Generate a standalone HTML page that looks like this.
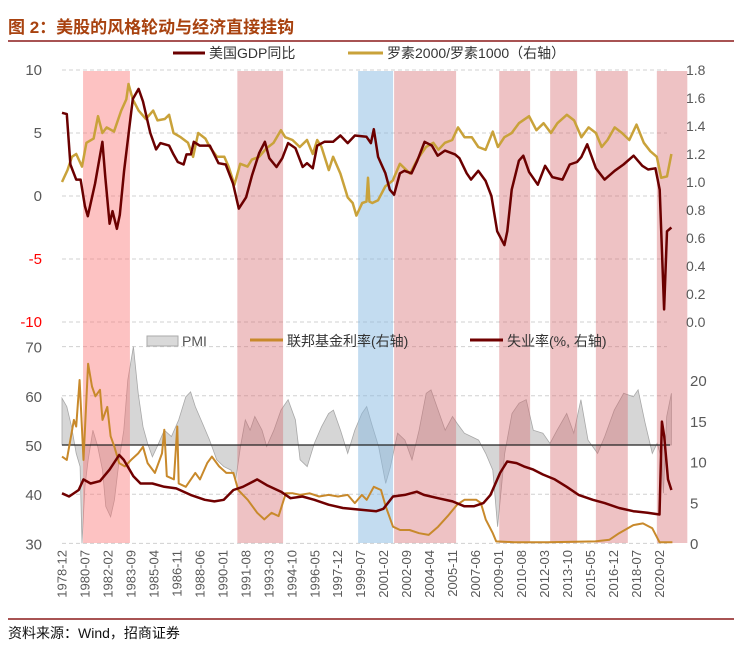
<!DOCTYPE html>
<html><head><meta charset="utf-8"><style>
body{margin:0;background:#fff;}
svg{display:block;font-family:"Liberation Sans","Noto Sans CJK SC",sans-serif;}
</style></head><body>
<svg id="c" width="743" height="654" viewBox="0 0 743 654">
<text x="8" y="33" font-size="17" font-weight="bold" fill="#a8420f">图 2：美股的风格轮动与经济直接挂钩</text>
<line x1="8" y1="41" x2="734" y2="41" stroke="#8b1a1a" stroke-width="1.5"/>
<g id="bands"></g>
<g id="grid"></g>
<g id="series"></g>
<g id="axes"></g>
<g>
<line x1="173" y1="53" x2="205" y2="53" stroke="#6b0000" stroke-width="3"/>
<text x="209" y="58" font-size="14" fill="#333">美国GDP同比</text>
<line x1="348" y1="53" x2="383" y2="53" stroke="#c9a23a" stroke-width="3"/>
<text x="387" y="58" font-size="14" fill="#333">罗素2000/罗素1000（右轴）</text>
</g>
<g>
<rect x="147" y="336" width="31" height="10" fill="#d9d9d9" stroke="#aaa" stroke-width="1"/>
<text x="182" y="346" font-size="14" fill="#555">PMI</text>
<line x1="250" y1="340" x2="283" y2="340" stroke="#c8892b" stroke-width="3"/>
<text x="287" y="346" font-size="14" fill="#333">联邦基金利率(右轴)</text>
<line x1="470" y1="340" x2="503" y2="340" stroke="#700000" stroke-width="3"/>
<text x="507" y="346" font-size="14" fill="#333">失业率(%, 右轴)</text>
</g>
<line x1="8" y1="619" x2="734" y2="619" stroke="#8b1a1a" stroke-width="1.5"/>
<text x="8" y="638" font-size="14" fill="#111">资料来源：Wind，招商证券</text>
</svg>
<script>
const gdpDates=[1978.92,1979.25,1979.5,1979.9,1980.2,1980.5,1980.7,1981.2,1981.7,1981.9,1982.2,1982.4,1982.7,1982.9,1983.2,1983.8,1984.2,1984.5,1985.0,1985.4,1985.7,1986.3,1986.6,1986.9,1987.3,1987.5,1987.8,1988.0,1988.4,1989.1,1989.7,1990.2,1990.7,1991.1,1991.6,1992.0,1992.5,1992.9,1993.2,1993.7,1994.1,1994.5,1995.0,1995.5,1995.8,1996.2,1996.5,1997.0,1997.6,1998.1,1998.6,1999.1,1999.9,2000.2,2000.4,2000.7,2001.2,2001.5,2001.8,2002.2,2002.5,2003.0,2003.4,2003.9,2004.4,2004.8,2005.3,2006.0,2006.3,2006.8,2007.1,2007.6,2008.1,2008.5,2008.9,2009.4,2009.6,2009.9,2010.4,2010.7,2011.1,2011.7,2012.2,2012.7,2013.4,2013.9,2014.4,2014.7,2015.1,2015.7,2016.3,2017.0,2017.6,2018.3,2018.9,2019.3,2019.8,2020.1,2020.4,2020.6,2020.9];
const gdpValues=[6.6,6.5,2.5,1.3,1.3,-0.8,-1.6,1.0,4.3,1.5,-2.2,-1.2,-2.6,-1.5,2.0,7.7,8.5,7.5,5.0,3.7,4.2,4.0,3.3,2.7,2.5,3.3,3.3,4.3,4.0,4.0,2.6,2.5,1.0,-1.0,-0.1,1.6,3.4,4.3,3.0,2.3,3.0,4.2,3.8,2.3,2.6,2.2,4.0,4.3,4.3,4.8,4.2,4.8,4.7,4.2,5.3,3.1,1.8,0.5,0.1,1.8,2.0,1.8,2.8,4.3,4.0,3.2,3.6,3.3,3.0,1.8,1.3,2.0,1.2,0.0,-2.8,-3.9,-2.8,0.5,2.8,3.2,1.9,0.9,2.4,1.5,1.3,2.5,2.7,3.1,4.1,2.2,1.3,2.0,2.5,3.2,2.4,2.1,2.2,0.5,-9.0,-2.8,-2.5];
const rusDates=[1978.92,1979.3,1979.6,1979.9,1980.3,1980.6,1981.1,1981.4,1981.7,1982.0,1982.5,1983.0,1983.35,1983.5,1983.8,1984.2,1984.7,1985.2,1985.5,1986.0,1986.3,1986.6,1987.1,1987.6,1987.95,1988.3,1988.8,1989.1,1989.6,1990.1,1990.4,1990.8,1991.2,1991.7,1992.0,1992.5,1993.0,1993.5,1994.0,1994.3,1994.8,1995.3,1995.8,1996.2,1996.5,1996.8,1997.3,1997.6,1998.1,1998.6,1998.95,1999.2,1999.6,1999.9,2000.0,2000.1,2000.3,2000.7,2001.2,2001.7,2002.2,2002.9,2003.4,2004.0,2004.5,2004.85,2005.3,2005.8,2006.2,2006.65,2007.15,2007.6,2008.1,2008.6,2008.95,2009.4,2009.9,2010.4,2011.1,2011.6,2012.1,2012.6,2013.05,2013.7,2014.2,2014.7,2015.2,2015.7,2016.1,2016.5,2017.0,2017.5,2018.0,2018.5,2019.0,2019.45,2019.9,2020.2,2020.6,2020.9];
const rusValues=[1.00,1.085,1.18,1.20,1.11,1.28,1.31,1.47,1.35,1.39,1.36,1.51,1.59,1.70,1.59,1.51,1.45,1.51,1.44,1.45,1.48,1.35,1.32,1.28,1.18,1.35,1.31,1.25,1.18,1.18,1.11,0.98,1.13,1.11,1.16,1.18,1.24,1.28,1.37,1.32,1.30,1.25,1.30,1.20,1.30,1.25,1.085,1.18,1.06,0.89,0.85,0.76,0.85,0.86,1.03,0.86,0.85,0.87,0.97,1.01,1.13,1.06,1.16,1.25,1.28,1.23,1.28,1.30,1.39,1.32,1.32,1.25,1.23,1.36,1.25,1.32,1.35,1.42,1.47,1.37,1.42,1.35,1.42,1.48,1.44,1.32,1.39,1.35,1.25,1.30,1.39,1.35,1.30,1.41,1.28,1.22,1.18,1.03,1.04,1.20];
const pmiDates=[1978.92,1979.25,1979.58,1979.9,1980.17,1980.3,1980.5,1980.72,1981.05,1981.38,1981.71,1981.94,1982.27,1982.53,1982.86,1983.18,1983.45,1983.84,1984.17,1984.5,1984.82,1985.15,1985.48,1985.97,1986.46,1986.96,1987.45,1987.78,1988.1,1988.6,1989.09,1989.58,1990.07,1990.56,1990.89,1991.22,1991.55,1991.88,1992.2,1992.7,1993.02,1993.52,1994.01,1994.5,1995.0,1995.32,1995.81,1996.3,1996.8,1997.29,1997.62,1998.11,1998.6,1999.09,1999.58,1999.91,2000.24,2000.73,2001.22,2001.55,2002.04,2002.54,2003.03,2003.52,2004.01,2004.34,2004.83,2005.32,2005.82,2006.14,2006.64,2007.13,2007.62,2008.11,2008.6,2008.93,2009.42,2009.92,2010.41,2010.9,2011.39,2012.05,2012.54,2013.03,2013.69,2014.18,2014.67,2015.16,2015.82,2016.31,2016.97,2017.62,2018.28,2018.61,2019.1,2019.59,2019.92,2020.25,2020.35,2020.58,2020.9];
const pmiValues=[59.5,57.8,53.7,48.3,45.6,30,41.5,46.9,53,49.7,44.9,37.5,35.4,38.8,47,53,63.2,70,60.5,53.7,50.3,47.6,49.7,53,51.7,55.1,59.8,60.8,57.8,54.4,51,47,45.6,44.9,42.9,49.7,55.1,53,55.8,53,49.7,53,57.1,59.2,55.1,47,45.6,50.3,53.7,56.4,57.1,53,48.3,53,56.4,57.8,54.4,49.7,42.2,45.6,52.4,51,47,53,60.5,61.2,57.1,53,55.8,54.4,52.4,51.7,51,48.3,44.9,33.4,48.3,56.4,58.5,59.2,53,52.4,50.3,53,56.4,52.4,59.2,51,48.3,51.7,57.1,60.5,59.8,61.2,54.4,48.3,50.3,47,40.2,55.8,60.5];
const ffDates=[1978.92,1979.25,1979.74,1979.9,1980.13,1980.4,1980.72,1980.99,1981.22,1981.54,1981.71,1982.04,1982.27,1982.53,1982.86,1983.25,1983.68,1984.17,1984.5,1984.82,1985.32,1985.81,1985.97,1986.14,1986.63,1986.86,1986.96,1987.45,1988.1,1988.43,1988.92,1989.25,1989.74,1990.24,1990.73,1991.06,1991.71,1992.37,1992.86,1993.35,1993.84,1994.34,1994.83,1995.32,1995.98,1996.63,1997.29,1997.94,1998.6,1999.09,1999.58,1999.91,2000.4,2000.9,2001.22,2001.72,2002.21,2002.86,2003.52,2004.18,2004.83,2005.49,2006.14,2006.64,2007.46,2007.78,2008.11,2008.6,2008.83,2010.08,2012.38,2015.66,2016.64,2017.3,2018.28,2018.94,2019.59,2020.08,2020.97];
const ffValues=[10.6,10.2,15.1,14.3,20,10.2,22,19.2,18,18.8,15.1,16.7,13.1,11.8,9.8,9.4,10.2,11,11.8,9.8,8.6,11.0,13.9,8.2,7.8,14.3,7.3,6.9,8.6,7.8,9.8,10.6,9.4,8.6,8.6,6.5,5.3,3.7,2.9,3.7,3.3,6.1,6.1,5.9,6.1,5.7,5.9,5.7,5.9,4.9,5.9,5.3,6.9,6.5,4.5,2.0,1.6,1.6,1.2,1.0,2.0,3.3,4.7,5.3,5.3,4.9,2.9,1.2,0.2,0.1,0.1,0.2,0.4,1.2,2.2,2.4,1.8,0.1,0.1];
const unDates=[1978.92,1979.41,1980.07,1980.4,1980.89,1981.54,1982.2,1982.86,1983.18,1983.84,1984.33,1985.15,1985.97,1986.79,1987.78,1988.76,1989.42,1990.07,1990.73,1991.38,1992.37,1993.02,1994.01,1994.66,1995.48,1996.3,1997.29,1998.27,1999.42,2000.57,2001.06,2001.72,2002.54,2003.36,2003.85,2004.83,2005.82,2006.64,2007.29,2007.95,2008.44,2009.1,2009.59,2010.24,2010.74,2011.39,2012.05,2012.87,2013.69,2014.51,2015.49,2016.31,2017.3,2018.28,2019.26,2020.08,2020.25,2020.41,2020.67,2020.9];
const unValues=[6.1,5.7,6.5,7.8,7.3,7.6,9.0,10.8,10.2,8.2,7.3,7.3,6.9,6.7,5.9,5.3,5.1,5.3,6.5,6.9,7.8,7.1,6.3,5.5,5.7,5.3,4.7,4.3,4.1,3.9,4.2,5.7,5.9,6.3,5.9,5.5,5.1,4.5,4.5,4.9,5.9,8.6,10.0,9.8,9.4,9.0,8.4,7.8,6.9,5.9,5.3,4.9,4.3,3.9,3.7,3.5,14.9,13.1,7.8,6.5];
const bandStarts=[1980.37,1991.0,1999.32,2001.8,2009.04,2012.55,2015.7,2019.9];
const bandEnds=[1983.6,1994.15,2001.73,2006.07,2011.17,2014.41,2017.9,2022.0];
const bandKinds=["strong","pink","blue","pink","pink","pink","pink","pink"];
const xTickLabels=["1978-12","1980-07","1982-02","1983-09","1985-04","1986-11","1988-06","1990-01","1991-08","1993-03","1994-10","1996-05","1997-12","1999-07","2001-02","2002-09","2004-04","2005-11","2007-06","2009-01","2010-08","2012-03","2013-10","2015-05","2016-12","2018-07","2020-02"];
const topLeftTicks=[10,5,0,-5,-10];
const topRightTicks=[1.8,1.6,1.4,1.2,1.0,0.8,0.6,0.4,0.2,0.0];
const botLeftTicks=[70,60,50,40,30];
const botRightTicks=[20,15,10,5,0];

const NS="http://www.w3.org/2000/svg";
const X0=62,X1=667,T0=1978.92,T1=2020.6;
const x=t=>X0+(t-T0)*(X1-X0)/(T1-T0);
const yTopL=v=>196-v*12.6;
const yTopR=v=>322-v*(252/1.8);
const yBotL=v=>445-(v-50)*4.92;
const yBotR=v=>543-v*8.15;
function el(tag,attrs,parent){const e=document.createElementNS(NS,tag);for(const k in attrs)e.setAttribute(k,attrs[k]);parent.appendChild(e);return e;}
const gB=document.getElementById('bands'),gG=document.getElementById('grid'),gS=document.getElementById('series'),gA=document.getElementById('axes');

// grid
topLeftTicks.forEach(v=>{const l=el('line',{x1:X0,x2:X1,y1:yTopL(v),y2:yTopL(v),stroke:'#d0d0d0','stroke-dasharray':'4,3'},gG);

});
botLeftTicks.forEach(v=>{if(v===50)return;const l=el('line',{x1:X0,x2:X1,y1:yBotL(v),y2:yBotL(v),stroke:'#d0d0d0','stroke-dasharray':'4,3'},gG);

});

// PMI area
let d='M'+x(pmiDates[0])+','+yBotL(50);
pmiDates.forEach((t,i)=>{d+=' L'+x(t).toFixed(1)+','+yBotL(pmiValues[i]).toFixed(1);});
d+=' L'+x(pmiDates[pmiDates.length-1])+','+yBotL(50)+' Z';
const pa=el('path',{d:d,fill:'#d6d6d6',stroke:'#a8a8a8','stroke-width':0.8},gS);



// bands
bandStarts.forEach((s,i)=>{const k=bandKinds[i];const fill=k==='strong'?'rgba(250,120,120,0.45)':k==='blue'?'rgba(140,188,226,0.52)':'rgba(215,110,115,0.42)';
const r=el('rect',{x:x(s),y:71,width:x(bandEnds[i])-x(s),height:472,fill:fill},gS);

});

// 50 baseline
const bl=el('line',{x1:X0,x2:X1+3,y1:yBotL(50),y2:yBotL(50),stroke:'#222','stroke-width':1.3},gS);



function line(dates,vals,fy,color,w,name){const p=dates.map((t,i)=>x(t).toFixed(1)+','+fy(vals[i]).toFixed(1)).join(' ');
const pl=el('polyline',{points:p,fill:'none',stroke:color,'stroke-width':w,'stroke-linejoin':'round'},gS);

}
line(ffDates,ffValues,yBotR,'#c8892b',2,'fed-funds-line');
line(unDates,unValues,yBotR,'#700000',2.5,'unemployment-line');
line(rusDates,rusValues,yTopR,'#c9a23a',2.5,'russell-ratio-line');
line(gdpDates,gdpValues,yTopL,'#6b0000',2.5,'gdp-line');

// axis labels
topLeftTicks.forEach(v=>{const t=el('text',{x:42,y:yTopL(v)+5,'text-anchor':'end','font-size':15,fill:v<0?'#ff0000':'#595959'},gA);t.textContent=v;

});
topRightTicks.forEach(v=>{const t=el('text',{x:686,y:yTopR(v)+5,'font-size':14,fill:'#595959'},gA);t.textContent=v.toFixed(1);

});
botLeftTicks.forEach(v=>{const t=el('text',{x:42,y:yBotL(v)+6,'text-anchor':'end','font-size':15,fill:'#595959'},gA);t.textContent=v;

});
botRightTicks.forEach(v=>{const t=el('text',{x:690,y:yBotR(v)+6,'font-size':15,fill:'#595959'},gA);t.textContent=v;

});
xTickLabels.forEach((s,i)=>{const parts=s.split('-');const t0=+parts[0]+(+parts[1]-1)/12;const px=x(t0)+4.5;
const t=el('text',{x:0,y:0,transform:'translate('+px.toFixed(1)+',550) rotate(-90)','text-anchor':'end','font-size':13,fill:'#595959'},gA);t.textContent=s;

});
</script>
</body></html>
